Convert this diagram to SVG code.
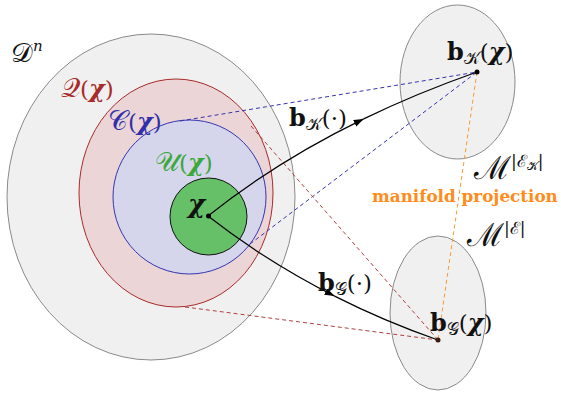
<svg xmlns="http://www.w3.org/2000/svg" width="561" height="395" viewBox="0 0 561 395">
<style>
.t{font-family:"DejaVu Serif",serif;fill:#111}
.bb{font-family:"DejaVu Serif",serif;font-weight:bold}
.chi{font-family:"DejaVu Serif",serif;font-weight:bold;font-style:italic}
.it{font-style:italic}
.dash{fill:none;stroke-width:1;stroke-dasharray:4,3}
.curve{fill:none;stroke:#000;stroke-width:1.2}
.gray{fill:#f0f0f0;stroke:#8a8a8a;stroke-width:1}
</style>
<defs>
<marker id="arr" markerUnits="userSpaceOnUse" markerWidth="11" markerHeight="8" refX="10" refY="3.5" orient="auto">
<path d="M0,0 L10,3.5 L0,7 z" fill="#000"/>
</marker>
</defs>
<g id="domain"><ellipse class="gray" cx="151" cy="197" rx="144" ry="163"/></g>
<g id="Q"><ellipse cx="176" cy="193" rx="97" ry="114" fill="#ebd5d6" stroke="#a82a2a" stroke-width="1"/></g>
<g id="C"><ellipse cx="189.5" cy="197" rx="76.5" ry="77" fill="#d5d5eb" stroke="#3535b0" stroke-width="1"/></g>
<g id="U"><circle cx="208.5" cy="216.5" r="38.5" fill="#66c068" stroke="#111" stroke-width="1"/></g>
<g id="MK"><ellipse class="gray" cx="457.5" cy="82" rx="57.5" ry="77"/></g>
<g id="MG"><ellipse class="gray" cx="438" cy="313" rx="48" ry="77"/></g>
<g id="connectors">
<line class="dash" stroke="#3535b0" x1="180" y1="121" x2="477" y2="72"/>
<line class="dash" stroke="#3535b0" x1="250" y1="244" x2="477" y2="72"/>
<line class="dash" stroke="#b04040" x1="251" y1="126" x2="438" y2="340"/>
<line class="dash" stroke="#b04040" x1="185" y1="307" x2="438" y2="340"/>
<line class="dash" stroke="#ff9933" x1="477" y1="72" x2="438" y2="340"/>
<path class="curve" d="M208,216 Q276.8,161.1 363.7,118.9" marker-end="url(#arr)"/>
<path class="curve" d="M363.7,118.9 Q416.96,93.05 477,72"/>
<path class="curve" d="M208,216 Q266.58,261.7 334.6,296.1" marker-end="url(#arr)"/>
<path class="curve" d="M334.6,296.1 Q383.82,321 438,340"/>
</g>
<g id="points">
<circle cx="208.5" cy="216" r="2.5" fill="#000"/>
<circle cx="477" cy="72" r="2.5" fill="#000"/>
<circle cx="438" cy="340" r="2.5" fill="#3a1a10"/>
</g>
<g id="labels">
<text class="t" x="11" y="62" font-size="27">𝒟<tspan class="it" font-size="15" dy="-11">n</tspan></text>
<text class="t" x="61" y="97" font-size="27" style="fill:#a82a2a">𝒬<tspan font-size="23">(</tspan><tspan class="chi" font-size="24">χ</tspan><tspan font-size="23">)</tspan></text>
<text class="t" x="108" y="130" font-size="27" style="fill:#3030a8">𝒞<tspan font-size="23">(</tspan><tspan class="chi" font-size="24">χ</tspan><tspan font-size="23">)</tspan></text>
<text class="t" x="155" y="171" font-size="27" style="fill:#3aa83a">𝒰<tspan font-size="23">(</tspan><tspan class="chi" font-size="24">χ</tspan><tspan font-size="23">)</tspan></text>
<text class="chi" x="188" y="213" font-size="26" fill="#111">χ</text>
<text class="t" x="289" y="126" font-size="23"><tspan class="bb" font-size="24">b</tspan><tspan font-size="17" dy="4">𝒦</tspan><tspan dy="-4">(·)</tspan></text>
<text class="t" x="447" y="60" font-size="23"><tspan class="bb" font-size="24">b</tspan><tspan font-size="17" dy="4">𝒦</tspan><tspan dy="-4">(</tspan><tspan class="chi" font-size="24">χ</tspan>)</text>
<text class="t" x="474" y="179" font-size="32">ℳ<tspan font-size="17" dy="-12">|ℰ</tspan><tspan font-size="12" dy="3">𝒦</tspan><tspan font-size="17" dy="-3">|</tspan></text>
<text x="372" y="202" font-size="16.8" font-family="DejaVu Serif, serif" font-weight="bold" fill="#ff8c1a">manifold projection</text>
<text class="t" x="467" y="246" font-size="32">ℳ<tspan font-size="17" dy="-12">|ℰ|</tspan></text>
<text class="t" x="318" y="291" font-size="23"><tspan class="bb" font-size="24">b</tspan><tspan font-size="17" dy="4">𝒢</tspan><tspan dy="-4">(·)</tspan></text>
<text class="t" x="430" y="331" font-size="23"><tspan class="bb" font-size="24">b</tspan><tspan font-size="17" dy="4">𝒢</tspan><tspan dy="-4">(</tspan><tspan class="chi" font-size="24">χ</tspan>)</text>
</g>
</svg>
